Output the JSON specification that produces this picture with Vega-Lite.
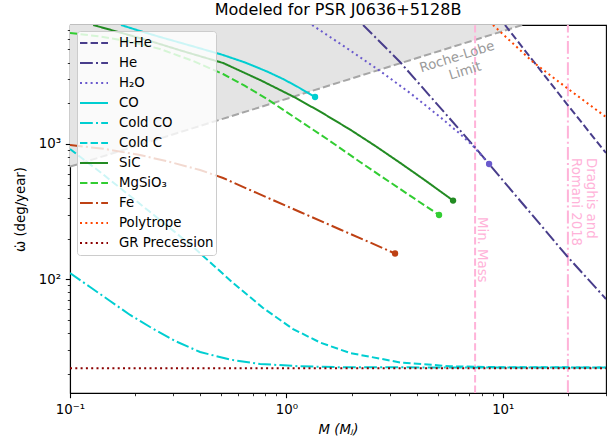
{
  "$schema": "https://vega.github.io/schema/vega-lite/v6.json",
  "width": 536,
  "height": 368,
  "autosize": {"type": "none"},
  "padding": {"left": 70, "top": 25, "right": 7, "bottom": 43},
  "background": "white",
  "title": {"text": "Modeled for PSR J0636+5128B", "fontSize": 16, "fontWeight": "normal", "font": "DejaVu Sans", "color": "black", "offset": 5},
  "config": {
    "font": "DejaVu Sans",
    "view": {"stroke": "black", "strokeWidth": 1.1},
    "axis": {"grid": false, "domainColor": "black", "tickColor": "black", "labelColor": "black", "titleColor": "black", "labelFontSize": 13.3, "titleFontSize": 13.3, "titleFontWeight": "normal", "labelFont": "DejaVu Sans", "titleFont": "DejaVu Sans", "labelFlush": false, "labelOverlap": false, "domainWidth": 1.1}
  },
  "datasets": {
    "curves": [
      {"series": "H-He", "m": 10.24, "w": 7578}, {"series": "H-He", "m": 19.79, "w": 1975}, {"series": "H-He", "m": 30, "w": 858},
      {"series": "He", "m": 2.262, "w": 7578}, {"series": "He", "m": 3.351, "w": 4037}, {"series": "He", "m": 7.285, "w": 983}, {"series": "He", "m": 19.79, "w": 148.7}, {"series": "He", "m": 30, "w": 71.5},
      {"series": "H₂O", "m": 1.3146, "w": 7578}, {"series": "H₂O", "m": 1.8677, "w": 5212}, {"series": "H₂O", "m": 2.71, "w": 3463}, {"series": "H₂O", "m": 3.729, "w": 2382}, {"series": "H₂O", "m": 5.133, "w": 1583}, {"series": "H₂O", "m": 6.35, "w": 1186}, {"series": "H₂O", "m": 7.291, "w": 966.5}, {"series": "H₂O", "m": 8.645, "w": 711.5},
      {"series": "CO", "m": 0.172, "w": 7578}, {"series": "CO", "m": 0.2109, "w": 6842}, {"series": "CO", "m": 0.2608, "w": 6178}, {"series": "CO", "m": 0.3589, "w": 5346}, {"series": "CO", "m": 0.5099, "w": 4548}, {"series": "CO", "m": 0.6443, "w": 4004}, {"series": "CO", "m": 0.8145, "w": 3434}, {"series": "CO", "m": 0.9655, "w": 3022}, {"series": "CO", "m": 1.1205, "w": 2661}, {"series": "CO", "m": 1.357, "w": 2226},
      {"series": "Cold CO", "m": 0.1, "w": 111.3}, {"series": "Cold CO", "m": 0.1238, "w": 87.7}, {"series": "Cold CO", "m": 0.1532, "w": 69.1}, {"series": "Cold CO", "m": 0.1896, "w": 54.5}, {"series": "Cold CO", "m": 0.2345, "w": 44.4}, {"series": "Cold CO", "m": 0.3059, "w": 35.0}, {"series": "Cold CO", "m": 0.3993, "w": 29.0}, {"series": "Cold CO", "m": 0.5494, "w": 25.5}, {"series": "Cold CO", "m": 0.7559, "w": 23.66}, {"series": "Cold CO", "m": 1.157, "w": 22.75}, {"series": "Cold CO", "m": 1.771, "w": 22.4}, {"series": "Cold CO", "m": 5.708, "w": 22.3}, {"series": "Cold CO", "m": 30, "w": 22.3},
      {"series": "Cold C", "m": 0.1, "w": 918.5}, {"series": "Cold C", "m": 0.1377, "w": 620.9}, {"series": "Cold C", "m": 0.1896, "w": 412.8}, {"series": "Cold C", "m": 0.2608, "w": 274.4}, {"series": "Cold C", "m": 0.3706, "w": 173.3}, {"series": "Cold C", "m": 0.4585, "w": 127.6}, {"series": "Cold C", "m": 0.5673, "w": 93.9}, {"series": "Cold C", "m": 0.7803, "w": 61.4}, {"series": "Cold C", "m": 1.0739, "w": 42.9}, {"series": "Cold C", "m": 1.4317, "w": 34.1}, {"series": "Cold C", "m": 1.9701, "w": 28.5}, {"series": "Cold C", "m": 3.3535, "w": 24.3}, {"series": "Cold C", "m": 5.708, "w": 22.75}, {"series": "Cold C", "m": 9.716, "w": 22.4}, {"series": "Cold C", "m": 30, "w": 22.3},
      {"series": "SiC", "m": 0.128, "w": 7578}, {"series": "SiC", "m": 0.1704, "w": 6670}, {"series": "SiC", "m": 0.2345, "w": 5771}, {"series": "SiC", "m": 0.3227, "w": 4927}, {"series": "SiC", "m": 0.5099, "w": 3969}, {"series": "SiC", "m": 0.7559, "w": 2972}, {"series": "SiC", "m": 1.0739, "w": 2245}, {"series": "SiC", "m": 1.4317, "w": 1736}, {"series": "SiC", "m": 1.9701, "w": 1278}, {"series": "SiC", "m": 2.57, "w": 970}, {"series": "SiC", "m": 3.3535, "w": 726}, {"series": "SiC", "m": 4.375, "w": 539}, {"series": "SiC", "m": 5.893, "w": 382},
      {"series": "MgSiO₃", "m": 0.1, "w": 6613}, {"series": "MgSiO₃", "m": 0.1377, "w": 6231}, {"series": "MgSiO₃", "m": 0.1896, "w": 5723}, {"series": "MgSiO₃", "m": 0.2608, "w": 5036}, {"series": "MgSiO₃", "m": 0.3706, "w": 4107}, {"series": "MgSiO₃", "m": 0.5099, "w": 3291}, {"series": "MgSiO₃", "m": 0.6443, "w": 2684}, {"series": "MgSiO₃", "m": 0.8145, "w": 2151}, {"series": "MgSiO₃", "m": 1.1205, "w": 1530}, {"series": "MgSiO₃", "m": 1.542, "w": 1089}, {"series": "MgSiO₃", "m": 2.191, "w": 736}, {"series": "MgSiO₃", "m": 3.3535, "w": 465}, {"series": "MgSiO₃", "m": 5.077, "w": 298.7},
      {"series": "Fe", "m": 0.1, "w": 983}, {"series": "Fe", "m": 0.1453, "w": 918.5}, {"series": "Fe", "m": 0.2109, "w": 829}, {"series": "Fe", "m": 0.2902, "w": 736}, {"series": "Fe", "m": 0.3993, "w": 642}, {"series": "Fe", "m": 0.5099, "w": 560.7}, {"series": "Fe", "m": 0.6796, "w": 457}, {"series": "Fe", "m": 0.8867, "w": 379}, {"series": "Fe", "m": 1.157, "w": 314.4}, {"series": "Fe", "m": 1.771, "w": 233.4}, {"series": "Fe", "m": 2.437, "w": 187}, {"series": "Fe", "m": 3.179, "w": 155.1},
      {"series": "Polytrope", "m": 9.01, "w": 7578}, {"series": "Polytrope", "m": 13.79, "w": 4037}, {"series": "Polytrope", "m": 19.79, "w": 2594}, {"series": "Polytrope", "m": 30, "w": 1583},
      {"series": "GR Precession", "m": 0.1, "w": 22}, {"series": "GR Precession", "m": 30, "w": 22}
    ],
    "ends": [
      {"series": "H₂O", "m": 8.645, "w": 711.5},
      {"series": "CO", "m": 1.357, "w": 2226},
      {"series": "SiC", "m": 5.893, "w": 382},
      {"series": "MgSiO₃", "m": 5.077, "w": 298.7},
      {"series": "Fe", "m": 3.179, "w": 155.1}
    ],
    "roche": [
      {"m": 0.1, "w": 680, "top": 7578},
      {"m": 12.33, "w": 7578, "top": 7578}
    ]
  },
  "encoding": {
    "x": {"field": "m", "type": "quantitative",
      "scale": {"type": "log", "domain": [0.1, 30], "nice": false},
      "axis": {"title": "M (Mⱼ)", "titleFontStyle": "italic", "titlePadding": 7, "labelPadding": 4.7,
        "values": [0.1, 0.2, 0.3, 0.4, 0.5, 0.6, 0.7, 0.8, 0.9, 1, 2, 3, 4, 5, 6, 7, 8, 9, 10, 20, 30],
        "labelExpr": "datum.value == 0.1 ? '10⁻¹' : datum.value == 1 ? '10⁰' : datum.value == 10 ? '10¹' : ''",
        "tickSize": {"condition": {"test": "datum.value == 0.1 || datum.value == 1 || datum.value == 10", "value": 4.7}, "value": 2.7},
        "tickWidth": {"condition": {"test": "datum.value == 0.1 || datum.value == 1 || datum.value == 10", "value": 1.1}, "value": 0.8}}},
    "y": {"field": "w", "type": "quantitative",
      "scale": {"type": "log", "domain": [14.44, 7578], "nice": false},
      "axis": {"title": "ω̇ (deg/year)", "titlePadding": 11, "labelPadding": 4.7,
        "values": [20, 30, 40, 50, 60, 70, 80, 90, 100, 200, 300, 400, 500, 600, 700, 800, 900, 1000, 2000, 3000, 4000, 5000, 6000, 7000],
        "labelExpr": "datum.value == 100 ? '10²' : datum.value == 1000 ? '10³' : ''",
        "tickSize": {"condition": {"test": "datum.value == 100 || datum.value == 1000", "value": 4.7}, "value": 2.7},
        "tickWidth": {"condition": {"test": "datum.value == 100 || datum.value == 1000", "value": 1.1}, "value": 0.8}}}
  },
  "layer": [
    {
      "data": {"name": "roche"},
      "mark": {"type": "area", "color": "#e4e4e4", "clip": true},
      "encoding": {"y2": {"field": "top"}}
    },
    {
      "data": {"name": "roche"},
      "mark": {"type": "line", "color": "#a6a6a6", "strokeWidth": 2, "strokeDash": [7.4, 3.2], "clip": true},
      "encoding": {}
    },
    {
      "data": {"values": [{"m": 7.45, "w": 14.44, "w2": 7578}]},
      "mark": {"type": "rule", "color": "#ffb3d9", "strokeWidth": 2, "strokeDash": [7.4, 3.2]},
      "encoding": {"y2": {"field": "w2"}}
    },
    {
      "data": {"values": [{"m": 20, "w": 14.44, "w2": 7578}]},
      "mark": {"type": "rule", "color": "#ffb3d9", "strokeWidth": 2, "strokeDash": [12.8, 3.2, 2, 3.2]},
      "encoding": {"y2": {"field": "w2"}}
    },
    {
      "data": {"values": [{"m": 6.15, "w": 4395, "label": "Roche-Lobe"}, {"m": 6.7, "w": 3463, "label": "Limit"}]},
      "mark": {"type": "text", "angle": -17.4, "color": "#999999", "fontSize": 13.3, "align": "center", "baseline": "middle"},
      "encoding": {"text": {"field": "label"}}
    },
    {
      "data": {"values": [{"m": 7.98, "w": 288.7, "label": "Min. Mass"}]},
      "mark": {"type": "text", "angle": 90, "color": "#ffb3d9", "fontSize": 13.3, "align": "left", "baseline": "middle"},
      "encoding": {"text": {"field": "label"}}
    },
    {
      "data": {"values": [{"m": 25.6, "w": 788, "label": "Draghis and"}, {"m": 21.8, "w": 788, "label": "Romani 2018"}]},
      "mark": {"type": "text", "angle": 90, "color": "#ffb3d9", "fontSize": 13.3, "align": "left", "baseline": "middle"},
      "encoding": {"text": {"field": "label"}}
    },
    {
      "data": {"name": "curves"},
      "mark": {"type": "line", "strokeWidth": 2, "clip": true},
      "encoding": {
        "color": {"field": "series", "type": "nominal",
          "scale": {"domain": ["H-He", "He", "H₂O", "CO", "Cold CO", "Cold C", "SiC", "MgSiO₃", "Fe", "Polytrope", "GR Precession"],
            "range": ["#483D8B", "#483D8B", "#6A5ACD", "#00CED1", "#00CED1", "#00CED1", "#228B22", "#32CD32", "#be4114", "#FF4500", "#8B0000"]},
          "legend": {"title": null, "orient": "none", "legendX": 7, "legendY": 6, "symbolType": "stroke", "symbolSize": 784, "symbolStrokeWidth": 2, "clipHeight": 20, "rowPadding": 0, "labelFontSize": 13.3, "labelColor": "black", "labelOffset": 10, "labelLimit": 300, "padding": 2, "fillColor": "rgba(255,255,255,0.8)", "strokeColor": "#cccccc", "cornerRadius": 3}},
        "strokeDash": {"field": "series", "type": "nominal",
          "scale": {"domain": ["H-He", "He", "H₂O", "CO", "Cold CO", "Cold C", "SiC", "MgSiO₃", "Fe", "Polytrope", "GR Precession"],
            "range": [[7.4, 3.2], [12.8, 3.2, 2, 3.2], [2, 3.3], [1, 0], [12.8, 3.2, 2, 3.2], [7.4, 3.2], [1, 0], [7.4, 3.2], [12.8, 3.2, 2, 3.2], [2, 3.3], [2, 3.3]]},
          "legend": {"title": null, "orient": "none", "legendX": 7, "legendY": 6, "symbolType": "stroke", "symbolSize": 784, "symbolStrokeWidth": 2, "clipHeight": 20, "rowPadding": 0, "labelFontSize": 13.3, "labelColor": "black", "labelOffset": 10, "labelLimit": 300, "padding": 2, "fillColor": "rgba(255,255,255,0.8)", "strokeColor": "#cccccc", "cornerRadius": 3}}
      }
    },
    {
      "data": {"name": "ends"},
      "mark": {"type": "circle", "size": 40, "opacity": 1},
      "encoding": {
        "fill": {"field": "series", "type": "nominal",
          "scale": {"domain": ["H₂O", "CO", "SiC", "MgSiO₃", "Fe"], "range": ["#6A5ACD", "#00CED1", "#228B22", "#32CD32", "#be4114"]},
          "legend": null}
      }
    }
  ]
}
